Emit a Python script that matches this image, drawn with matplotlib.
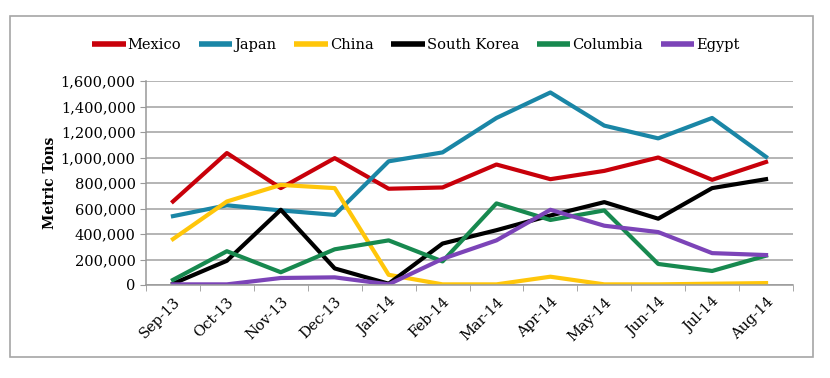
import matplotlib
matplotlib.use('Agg')
import matplotlib.pyplot as plt
from matplotlib.patches import Rectangle
from matplotlib.ticker import FuncFormatter

months = ['Sep-13', 'Oct-13', 'Nov-13', 'Dec-13', 'Jan-14', 'Feb-14',
          'Mar-14', 'Apr-14', 'May-14', 'Jun-14', 'Jul-14', 'Aug-14']

mexico = [655000, 1035000, 760000, 995000, 755000, 765000, 945000, 830000, 895000, 1000000, 825000, 965000]
japan = [540000, 625000, 585000, 550000, 970000, 1040000, 1310000, 1510000, 1250000, 1150000, 1310000, 1005000]
china = [360000, 655000, 785000, 760000, 80000, 5000, 5000, 65000, 5000, 5000, 10000, 15000]
south_korea = [10000, 190000, 590000, 130000, 10000, 325000, 430000, 545000, 650000, 520000, 760000, 830000]
columbia = [40000, 265000, 100000, 280000, 350000, 185000, 640000, 510000, 585000, 165000, 110000, 230000]
egypt = [5000, 5000, 55000, 60000, 5000, 205000, 350000, 590000, 465000, 415000, 250000, 235000]

series = [('Mexico', mexico, '#C8000A'),
          ('Japan', japan, '#1A86A6'),
          ('China', china, '#FFC60A'),
          ('South Korea', south_korea, '#000000'),
          ('Columbia', columbia, '#17894F'),
          ('Egypt', egypt, '#7C44B8')]

plt.rcParams['font.family'] = ['DejaVu Serif']

fig = plt.figure(figsize=(8.3, 3.78), dpi=100)
fig.patches.append(Rectangle((10 / 830, 1 - 357 / 378), 803 / 830, 341 / 378,
                             transform=fig.transFigure, fill=False,
                             edgecolor='#A6A6A6', linewidth=1.2))

ax = fig.add_axes([146 / 830, 1 - 285 / 378, 647 / 830, 204 / 378])

x = range(len(months))
for name, vals, color in series:
    ax.plot(x, vals, color=color, linewidth=3.0, label=name)

ax.set_xlim(-0.5, len(months) - 0.5)
ax.set_ylim(0, 1600000)
ax.set_yticks(range(0, 1600001, 200000))
ax.yaxis.set_major_formatter(FuncFormatter(lambda v, p: f'{int(v):,}'))
ax.set_xticks(list(x))
ax.set_xticklabels(months, rotation=45, ha='right', rotation_mode='anchor')
ax.set_xticks([i - 0.5 for i in range(len(months) + 1)], minor=True)
ax.tick_params(axis='x', which='major', length=0, pad=7, labelsize=10.5)
ax.tick_params(axis='x', which='minor', length=4, color='#999999', direction='out')
ax.tick_params(axis='y', length=4, color='#999999', direction='out', labelsize=10.5)

ax.grid(axis='y', color='#A0A0A0', linewidth=1.1)
ax.set_axisbelow(True)
for s in ['top', 'right']:
    ax.spines[s].set_visible(False)
for s in ['left', 'bottom']:
    ax.spines[s].set_color('#999999')
    ax.spines[s].set_linewidth(1.1)

ax.set_ylabel('Metric Tons', fontweight='bold', fontsize=10, labelpad=3)

leg = fig.legend(loc='center', bbox_to_anchor=(416 / 830, 1 - 45 / 378), ncol=6,
                 frameon=False, handlelength=2.3, handletextpad=0.15, columnspacing=1.2,
                 fontsize=10.5)
for line in leg.get_lines():
    line.set_linewidth(4)
    line.set_solid_capstyle('butt')

fig.savefig('out.png', dpi=100)
